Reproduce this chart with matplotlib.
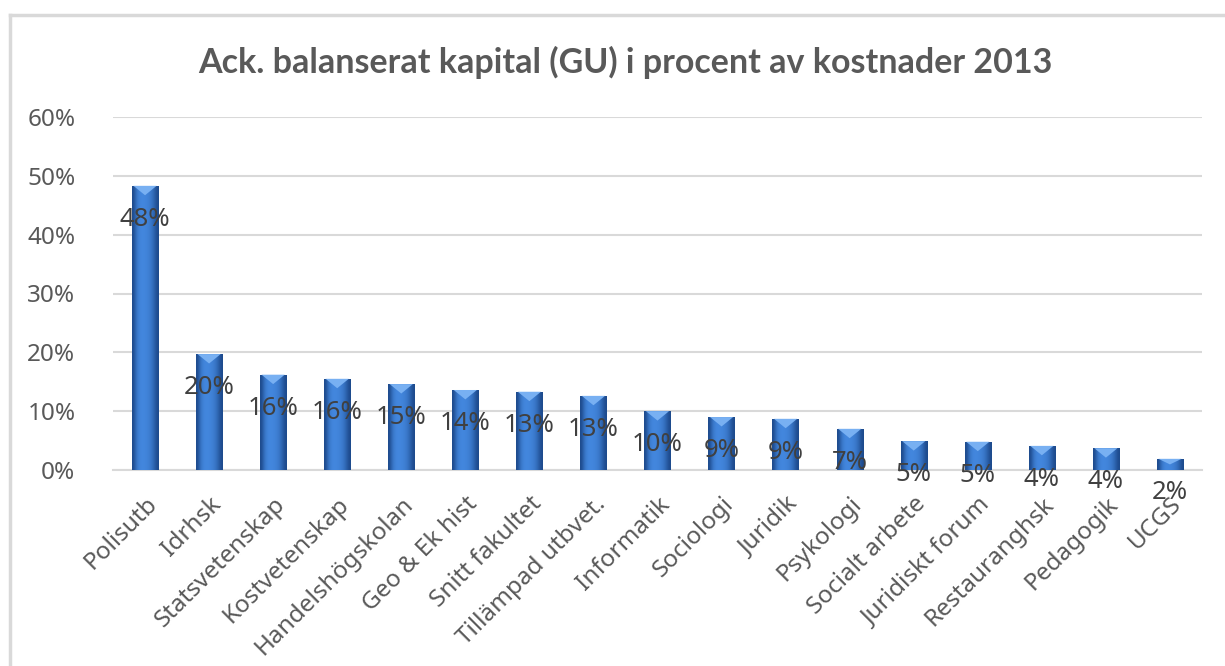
import numpy as np
import matplotlib.pyplot as plt
from matplotlib.patches import Polygon
from matplotlib.lines import Line2D
from matplotlib.ticker import PercentFormatter
from matplotlib.colors import LinearSegmentedColormap

# Data
enheter = ['Polisutb', 'Idrhsk', 'Statsvetenskap', 'Kostvetenskap',
           'Handelshögskolan', 'Geo & Ek hist', 'Snitt fakultet',
           'Tillämpad utbvet.', 'Informatik', 'Sociologi', 'Juridik',
           'Psykologi', 'Socialt arbete', 'Juridiskt forum',
           'Restauranghsk', 'Pedagogik', 'UCGS']
andel = [0.483, 0.197, 0.162, 0.155, 0.146, 0.136, 0.133, 0.126, 0.100,
         0.090, 0.087, 0.070, 0.049, 0.048, 0.041, 0.037, 0.019]
yticks = [0, 0.1, 0.2, 0.3, 0.4, 0.5, 0.6]

fig = plt.figure(figsize=(12.25, 6.66), dpi=100)
ax = fig.add_axes([113/1225, 1-470/666, (1202-113)/1225, (470-117)/666])

x = np.arange(len(enheter))
bars = ax.bar(x, andel, width=0.41, color='#3c7ad0', zorder=2)

# cylinder-like shading on each bar
grad = np.array([[0.1, 0.7, 0.95, 1.0, 0.97, 0.9, 0.75, 0.45, 0.1]])
cmap = LinearSegmentedColormap.from_list('bl', ['#1d4a8c', '#4387de'])
for b in bars:
    bx, by = b.get_x(), b.get_y()
    bw, bh = b.get_width(), b.get_height()
    im = ax.imshow(grad, cmap=cmap, aspect='auto', extent=(bx, bx+bw, by, by+bh),
                   zorder=3, interpolation='bicubic')
    im.set_clip_path(b)
    # bevel at the top
    d = min(0.016, bh*0.5)
    tri = Polygon([(bx+bw*0.06, by+bh), (bx+bw*0.94, by+bh), (bx+bw*0.5, by+bh-d)],
                  closed=True, facecolor='#78b0f2', edgecolor='none', zorder=4)
    ax.add_patch(tri)

ax.set_xlim(-0.5, 16.5)
ax.set_ylim(0, 0.6)
ax.set_yticks(yticks)
ax.yaxis.set_major_formatter(PercentFormatter(1.0, decimals=0))
ax.grid(axis='y', color='#d9d9d9', linewidth=1.5, zorder=0)
for s in ['top', 'right', 'left']:
    ax.spines[s].set_visible(False)
ax.spines['bottom'].set_color('#d9d9d9')
ax.spines['bottom'].set_linewidth(1.5)
ax.tick_params(axis='both', length=0, colors='#595959')
ax.tick_params(axis='y', pad=27)
ax.set_xticks(x)
ax.set_xticklabels(enheter, rotation=45, ha='right', rotation_mode='anchor',
                   fontsize=17.5, color='#595959', family='Noto Sans')
ax.set_yticklabels(ax.get_yticklabels(), fontsize=17.5, family='Noto Sans')
ax.tick_params(axis='x', pad=16)

for xi, v in zip(x, andel):
    ax.text(xi, v-0.057, f'{v*100:.0f}%', ha='center', va='center',
            fontsize=18.5, color='#404040', family='Noto Sans', zorder=5)

fig.text(625/1225, 1-62/666, 'Ack. balanserat kapital (GU) i procent av kostnader 2013',
         ha='center', va='center', fontsize=24.5, fontweight='bold',
         color='#595959', family='Lato')

# outer chart frame (left and top edges visible)
fig.add_artist(Line2D([10/1225, 10/1225], [0, 1-15/666], transform=fig.transFigure,
                      color='#d9d9d9', linewidth=2.5))
fig.add_artist(Line2D([10/1225, 1], [1-15/666, 1-15/666], transform=fig.transFigure,
                      color='#d9d9d9', linewidth=2.5))

fig.savefig('out.png', dpi=100)
